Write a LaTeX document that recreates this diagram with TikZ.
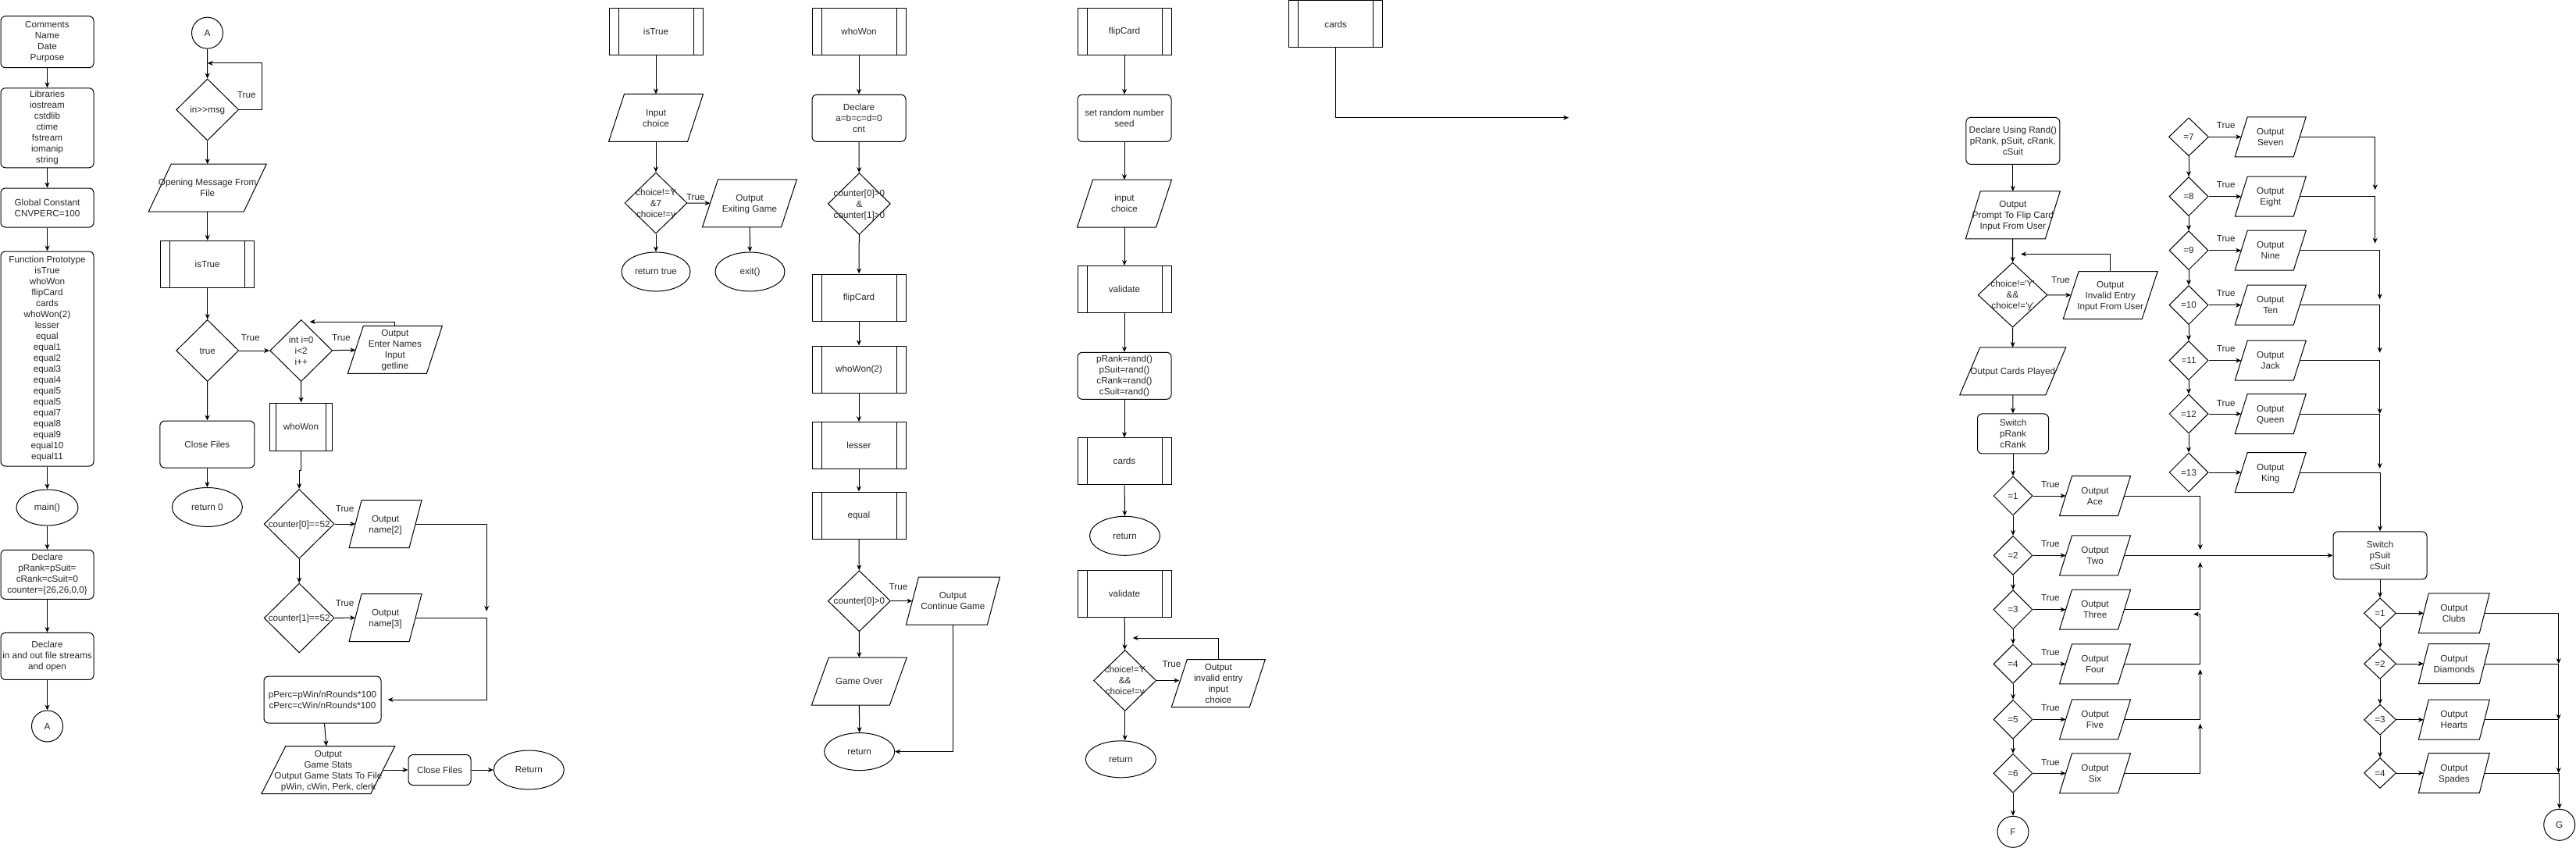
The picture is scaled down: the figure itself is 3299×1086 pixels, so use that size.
\documentclass[tikz,border=0pt]{standalone}
\usepackage{fontspec}
\setmainfont{Liberation Sans}
\usetikzlibrary{shapes.geometric,arrows.meta}
\newcommand{\ctext}[1]{\makebox[0pt]{\smash{\raisebox{-0.36em}{\begin{tabular}{@{}c@{}}#1\end{tabular}}}}}

\begin{document}
\begin{tikzpicture}[x=1pt, y=-1pt, line width=1pt, text=black!85,
	font=\fontsize{11.7}{14}\selectfont, >={Stealth[length=7pt,width=6pt]},
	proc/.style = {draw, rounded corners=6pt, minimum width=120, minimum height=60, inner sep=1pt, align=center},
	subr/.style = {draw, minimum width=120, minimum height=60, inner sep=1pt, align=center,
		path picture={\draw ([xshift=#1]path picture bounding box.north west) -- ([xshift=#1]path picture bounding box.south west)
			([xshift=-#1]path picture bounding box.north east) -- ([xshift=-#1]path picture bounding box.south east);}},
	subr/.default=12,
	decide/.style = {draw, diamond, minimum width=80, minimum height=78, inner sep=0pt},
	inout/.style = {minimum width=100, minimum height=60, inner sep=0pt,
		append after command={\pgfextra{\let\iobox\tikzlastnode
			\draw ([xshift=-#1/2]\iobox.south west) -- ([xshift=#1/2]\iobox.north west)
				-- ([xshift=#1/2]\iobox.north east) -- ([xshift=-#1/2]\iobox.south east) -- cycle;}}},
	inout/.default=20,
	termin/.style = {draw, ellipse, minimum width=90, minimum height=50, inner sep=0pt},
	conn/.style = {draw, circle, minimum size=40, inner sep=0pt},
	tlabel/.style = {inner sep=0pt},
	case/.style = {decide, minimum width=50, minimum height=50},
	suit/.style = {decide, minimum width=41, minimum height=39},
	cardout/.style = {inout=16, minimum width=74, minimum height=50},
	suitout/.style = {inout=13, minimum width=77, minimum height=50}]
	\useasboundingbox (0,0) rectangle (3299,1086);

	% main
	\node[proc, minimum width=119, minimum height=66] (cmt) at (60.5,53.7) {Comments\\Name\\Date\\Purpose};
	\node[proc, minimum width=119, minimum height=102] (lib) at (60.5,163.8) {Libraries\\iostream\\cstdlib\\ctime\\fstream\\iomanip\\string};
	\node[proc, minimum width=119, minimum height=50] (glob) at (60.5,266) {Global Constant\\CNVPERC=100};
	\node[proc, minimum width=119, minimum height=275] (proto) at (60.5,459.5) {Function Prototype\\isTrue\\whoWon\\flipCard\\cards\\whoWon(2)\\lesser\\equal\\equal1\\equal2\\equal3\\equal4\\equal5\\equal5\\equal7\\equal8\\equal9\\equal10\\equal11};
	\node[termin, minimum width=79, minimum height=46] (mainf) at (60.5,650) {main()};
	\node[proc, minimum width=119, minimum height=63] (decl) at (60.5,735.8) {Declare\\pRank=pSuit=\\cRank=cSuit=0\\counter=\{26,26,0,0\}};
	\node[proc, minimum width=119] (files) at (60.5,840.4) {Declare\\in and out file streams\\and open};
	\node[conn] (A1) at (60.5,930) {A};
	\draw[->] (cmt) -- (lib);
	\draw[->] (lib) -- (glob);
	\draw[->] (glob) -- (proto);
	\draw[->] (proto) -- (mainf);
	\draw[->] (mainf) -- (decl);
	\draw[->] (decl) -- (files);
	\draw[->] (files) -- (A1);

	% main, part A
	\node[conn] (A2) at (265.5,42.2) {A};
	\node[decide, minimum height=79] (msg) at (265.7,140.5) {\ctext{in>{}>msg}};
	\node[inout=29, minimum width=121] (open) at (265.7,240.7) {\ctext{Opening Message From\\File}};
	\node[subr] (isTr) at (265.7,338.3) {isTrue};
	\node[decide, minimum height=79] (truedia) at (265.7,449) {\ctext{true}};
	\node[decide, minimum height=79] (loopdia) at (385.7,449) {\ctext{int i=0\\i<2\\i++}};
	\node[inout] (names) at (505.9,447.8) {\ctext{Output\\Enter Names\\Input\\getline}};
	\node[proc, minimum width=121] (close1) at (265.4,569) {Close Files};
	\node[termin] (ret0) at (265.4,649.5) {return 0};
	\node[subr=8, minimum width=80, minimum height=61] (ww) at (385.6,546.5) {whoWon};
	\node[decide, minimum width=90, minimum height=89] (c0) at (383.2,671) {\ctext{counter[0]==52}};
	\node[inout=16, minimum width=76] (n2) at (493.6,671) {\ctext{Output\\name[2]}};
	\node[decide, minimum width=90, minimum height=89] (c1) at (383.2,791.5) {\ctext{counter[1]==52}};
	\node[inout=16, minimum width=76] (n3) at (493.6,791) {\ctext{Output\\name[3]}};
	\node[proc, minimum width=150] (perc) at (413,896) {pPerc=pWin/nRounds*100\\cPerc=cWin/nRounds*100};
	\node[inout=31, minimum width=139] (stats) at (420.4,986) {\ctext{Output\\Game Stats\\Output Game Stats To File\\pWin, cWin, Perk, clerk}};
	\node[proc, minimum width=80, minimum height=39] (close2) at (563,986) {Close Files};
	\node[termin] (Ret) at (677.3,986) {Return};
	\node[tlabel] (tmsg) at (315.8,121.6) {True};
	\node[tlabel] (ttrue) at (320.8,433) {True};
	\node[tlabel] (tloop) at (437,433) {True};
	\node[tlabel] (tc0) at (441.6,651.5) {True};
	\node[tlabel] (tc1) at (441.6,772.3) {True};
	\coordinate (msgin) at (265.7,80.9);
	\coordinate (loopin) at (396.7,412);
	\coordinate (n2end) at (623.2,782.8);
	\coordinate (n3turn) at (623.2,896);
	\draw[->] (A2) -- (msg);
	\draw[->] (msg.east) -- ++(29.3,0) |- (msgin);
	\draw[->] (msg) -- (open);
	\draw[->] (open) -- (isTr);
	\draw[->] (isTr) -- (truedia);
	\draw[->] (truedia) -- (close1);
	\draw[->] (close1) -- (ret0);
	\draw[->] (truedia) -- (loopdia);
	\draw[->] (loopdia) -- (names);
	\draw[->] (names.north) |- (loopin);
	\draw[->] (loopdia) -- (ww);
	\draw[->] (ww.south) -- ++(0,24.8) -| (c0.north);
	\draw[->] (c0) -- (n2);
	\draw[->] (c0) -- (c1);
	\draw[->] (c1) -- (n3);
	\draw[->] (n2.east) -| (n2end);
	\draw[->, shorten >=8pt] (n3.east) -| (n3turn) -- (perc.east);
	\draw[->] (perc) -- (stats);
	\draw[->] (stats) -- (close2);
	\draw[->] (close2) -- (Ret);

	% isTrue
	\node[subr] (isT) at (840,40.5) {isTrue};
	\node[inout] (inch) at (840,151) {\ctext{Input\\choice}};
	\node[decide] (chdia) at (840,260) {\ctext{choice!=Y\\\&7\\choice!=y}};
	\node[inout] (exitmsg) at (960,260.3) {\ctext{Output\\Exiting Game}};
	\node[termin, minimum width=88] (rettrue) at (840,348) {return true};
	\node[termin, minimum width=89] (exitf) at (960.5,348) {exit()};
	\node[tlabel] (tch) at (890.8,252.3) {True};
	\draw[->] (isT) -- (inch);
	\draw[->] (inch) -- (chdia);
	\draw[->] (chdia) -- (rettrue);
	\draw[->] (chdia) -- (exitmsg);
	\draw[->] (exitmsg) -- (exitf);

	% whoWon
	\node[subr] (wwT) at (1100,40.5) {whoWon};
	\node[proc] (wdecl) at (1100,151.3) {Declare\\a=b=c=d=0\\cnt};
	\node[decide, minimum height=79] (wdia) at (1100.4,261) {\ctext{counter[0]>0\\\&\\counter[1]>0}};
	\node[subr] (fc) at (1100,381) {flipCard};
	\node[subr] (ww2) at (1100,473) {whoWon(2)};
	\node[subr] (less) at (1100,570.6) {lesser};
	\node[subr] (eq) at (1100,660) {equal};
	\node[decide] (c0b) at (1100.4,769.7) {\ctext{counter[0]>0}};
	\node[inout=16, minimum width=103] (cont) at (1220.4,769.7) {\ctext{Output\\Continue Game}};
	\node[inout=22, minimum width=99] (gover) at (1100.3,872.6) {\ctext{Game Over}};
	\node[termin, minimum height=48] (wret) at (1100.7,962.6) {return};
	\node[tlabel] (tc0b) at (1150.5,751.4) {True};
	\draw[->] (wwT) -- (wdecl);
	\draw[->] (wdecl) -- (wdia);
	\draw[->] (wdia) -- (fc);
	\draw[->] (fc) -- (ww2);
	\draw[->] (ww2) -- (less);
	\draw[->] (less) -- (eq);
	\draw[->] (eq) -- (c0b);
	\draw[->] (c0b) -- (cont);
	\draw[->] (c0b) -- (gover);
	\draw[->] (gover) -- (wret);
	\draw[->] (cont.south) |- (wret.east);

	% flipCard and validate
	\node[subr] (fcT) at (1440,40.5) {flipCard};
	\node[proc] (seed) at (1440,151.3) {set random number\\seed};
	\node[inout] (inch2) at (1440,260.7) {\ctext{input\\choice}};
	\node[subr] (val1) at (1440,370.5) {validate};
	\node[proc] (rnd) at (1440,481.3) {pRank=rand()\\pSuit=rand()\\cRank=rand()\\cSuit=rand()};
	\node[subr] (cardsS) at (1440,590.8) {cards};
	\node[termin] (fret) at (1440.5,686.3) {return};
	\node[subr] (val2) at (1440,760.7) {validate};
	\node[decide] (vdia) at (1440.7,871.5) {\ctext{choice!=Y\\\&\&\\choice!=y}};
	\node[inout, minimum width=99] (invalid) at (1560.3,875) {\ctext{Output\\invalid entry\\input\\choice}};
	\node[termin, minimum height=47] (vret) at (1435.3,972.3) {return};
	\node[tlabel] (tv) at (1500.5,850.4) {True};
	\coordinate (vin) at (1450.7,817);
	\draw[->] (fcT) -- (seed);
	\draw[->] (seed) -- (inch2);
	\draw[->] (inch2) -- (val1);
	\draw[->] (val1) -- (rnd);
	\draw[->] (rnd) -- (cardsS);
	\draw[->] (cardsS) -- (fret);
	\draw[->] (val2) -- (vdia);
	\draw[->] (vdia.east) -- (vdia.east -| invalid.west);
	\draw[->] (invalid.north) |- (vin);
	\draw[->] (vdia.south) -- (vdia.south |- vret.north);

	% cards
	\node[subr] (cardsT) at (1710.7,31) {cards};
	\coordinate (cardsend) at (2009,150.7);
	\draw[->] (cardsT.south) |- (cardsend);

	% cards, ranks
	\node[proc] (drand) at (2577.8,180.4) {Declare Using Rand()\\pRank, pSuit, cRank,\\cSuit};
	\node[inout=19, minimum width=101] (prompt) at (2577.8,275.4) {\ctext{Output\\Prompt To Flip Card\\Input From User}};
	\node[decide, minimum width=89, minimum height=83] (cdia) at (2577.5,377.7) {\ctext{choice!=\textquotesingle Y\textquotesingle\\\&\&\\choice!=\textquotesingle y\textquotesingle}};
	\node[inout] (inv) at (2702.7,378) {\ctext{Output\\Invalid Entry\\Input From User}};
	\node[inout=26, minimum width=109] (played) at (2577.7,475.4) {\ctext{Output Cards Played}};
	\node[proc, minimum width=91, minimum height=51] (swr) at (2578,555.4) {Switch\\pRank\\cRank};
	\node[tlabel] (tcd) at (2639,358.6) {True};
	\coordinate (cin) at (2588,325.4);
	\draw[->] (drand) -- (prompt);
	\draw[->] (prompt) -- (cdia);
	\draw[->] (cdia) -- (inv);
	\draw[->] (inv.north) |- (cin);
	\draw[->] (cdia) -- (played);
	\draw[->] (played) -- (swr);

	\node[case] (r1) at (2578,635) {\ctext{=1}};
	\node[case] (r2) at (2578,711.3) {\ctext{=2}};
	\node[case] (r3) at (2578,780.7) {\ctext{=3}};
	\node[case] (r4) at (2578,850.3) {\ctext{=4}};
	\node[case] (r5) at (2578,921.3) {\ctext{=5}};
	\node[case] (r6) at (2578,990.3) {\ctext{=6}};
	\node[conn] (F) at (2578,1065.3) {F};
	\node[cardout] (o1) at (2683,635) {\ctext{Output\\Ace}};
	\node[cardout] (o2) at (2683,711.3) {\ctext{Output\\Two}};
	\node[cardout] (o3) at (2683,780.7) {\ctext{Output\\Three}};
	\node[cardout] (o4) at (2683,850.3) {\ctext{Output\\Four}};
	\node[cardout] (o5) at (2683,921.3) {\ctext{Output\\Five}};
	\node[cardout] (o6) at (2683,990.3) {\ctext{Output\\Six}};
	\node[tlabel] (t1) at (2625.8,620.7) {True};
	\node[tlabel] (t2) at (2625.8,696.7) {True};
	\node[tlabel] (t3) at (2625.8,765.7) {True};
	\node[tlabel] (t4) at (2625.8,835.7) {True};
	\node[tlabel] (t5) at (2625.8,906.7) {True};
	\node[tlabel] (t6) at (2625.8,976.7) {True};
	\draw[->] (swr) -- (r1);
	\draw[->] (r1) -- (r2);
	\draw[->] (r2) -- (r3);
	\draw[->] (r3) -- (r4);
	\draw[->] (r4) -- (r5);
	\draw[->] (r5) -- (r6);
	\draw[->] (r6) -- (F);
	\draw[->] (r1) -- (o1);
	\draw[->] (r2) -- (o2);
	\draw[->] (r3) -- (o3);
	\draw[->] (r4) -- (o4);
	\draw[->] (r5) -- (o5);
	\draw[->] (r6) -- (o6);

	\node[case, minimum width=51, minimum height=49] (r7) at (2803,175.3) {\ctext{=7}};
	\node[case] (r8) at (2803,251.7) {\ctext{=8}};
	\node[case] (r9) at (2803,320.7) {\ctext{=9}};
	\node[case] (r10) at (2803,390.7) {\ctext{=10}};
	\node[case] (r11) at (2803,461.7) {\ctext{=11}};
	\node[case] (r12) at (2803,530) {\ctext{=12}};
	\node[case] (r13) at (2803,605) {\ctext{=13}};
	\node[cardout] (o7) at (2907.7,175.3) {\ctext{Output\\Seven}};
	\node[cardout] (o8) at (2907.7,251.7) {\ctext{Output\\Eight}};
	\node[cardout] (o9) at (2907.7,320.7) {\ctext{Output\\Nine}};
	\node[cardout] (o10) at (2907.7,390.7) {\ctext{Output\\Ten}};
	\node[cardout] (o11) at (2907.7,461.7) {\ctext{Output\\Jack}};
	\node[cardout] (o12) at (2907.7,530) {\ctext{Output\\Queen}};
	\node[cardout] (o13) at (2907.7,605) {\ctext{Output\\King}};
	\node[tlabel] (t7) at (2850.7,160.7) {True};
	\node[tlabel] (t8) at (2850.7,236.7) {True};
	\node[tlabel] (t9) at (2850.7,305.7) {True};
	\node[tlabel] (t10) at (2850.7,375.7) {True};
	\node[tlabel] (t11) at (2850.7,446.7) {True};
	\node[tlabel] (t12) at (2850.7,516.7) {True};
	\draw[->] (r7) -- (r8);
	\draw[->] (r8) -- (r9);
	\draw[->] (r9) -- (r10);
	\draw[->] (r10) -- (r11);
	\draw[->] (r11) -- (r12);
	\draw[->] (r12) -- (r13);
	\draw[->] (r7) -- (o7);
	\draw[->] (r8) -- (o8);
	\draw[->] (r9) -- (o9);
	\draw[->] (r10) -- (o10);
	\draw[->] (r11) -- (o11);
	\draw[->] (r12) -- (o12);
	\draw[->] (r13) -- (o13);

	% cards, suits
	\node[proc, minimum height=61] (suitsw) at (3048,711.3) {Switch\\pSuit\\cSuit};
	\node[suit] (s1) at (3048,785.3) {\ctext{=1}};
	\node[suit] (s2) at (3048,850) {\ctext{=2}};
	\node[suit] (s3) at (3048,921.7) {\ctext{=3}};
	\node[suit] (s4) at (3048,990) {\ctext{=4}};
	\node[suitout] (clubs) at (3142.8,785.3) {\ctext{Output\\Clubs}};
	\node[suitout] (diams) at (3142.8,850) {\ctext{Output\\Diamonds}};
	\node[suitout] (hearts) at (3142.8,921.7) {\ctext{Output\\Hearts}};
	\node[suitout] (spades) at (3142.8,990) {\ctext{Output\\Spades}};
	\node[conn] (G) at (3277.7,1056.3) {G};
	\draw[->] (suitsw) -- (s1);
	\draw[->] (s1) -- (s2);
	\draw[->] (s2) -- (s3);
	\draw[->] (s3) -- (s4);
	\draw[->] (s1) -- (clubs);
	\draw[->] (s2) -- (diams);
	\draw[->] (s3) -- (hearts);
	\draw[->] (s4) -- (spades);

	% merging lines
	\coordinate (ma1) at (2817.7,704);
	\coordinate (ma3) at (2817.7,720);
	\coordinate (ma4) at (2809,786.5);
	\coordinate (ma5) at (2817.7,857.3);
	\coordinate (ma6) at (2817.7,926.7);
	\draw[->] (o1.east) -| (ma1);
	\draw[->] (o2.east) -- (suitsw.west);
	\draw[->] (o3.east) -| (ma3);
	\draw[->] (o4.east) -| ([xshift=8.7]ma4) -- (ma4);
	\draw[->] (o5.east) -| (ma5);
	\draw[->] (o6.east) -| (ma6);
	\coordinate (mb7) at (3041.7,243.3);
	\coordinate (mb8) at (3041.7,311.7);
	\coordinate (mb9) at (3047.7,383.3);
	\coordinate (mb10) at (3047.7,451.7);
	\coordinate (mb11) at (3047.7,530);
	\coordinate (mb12) at (3047.7,600);
	\draw[->] (o7.east) -| (mb7);
	\draw[->] (o8.east) -| (mb8);
	\draw[->] (o9.east) -| (mb9);
	\draw[->] (o10.east) -| (mb10);
	\draw[->] (o11.east) -| (mb11);
	\draw[->] (o12.east) -| (mb12);
	\draw[->] (o13.east) -| (suitsw.north);
	\coordinate (ms1) at (3276.7,850);
	\coordinate (ms2) at (3276.7,921.7);
	\coordinate (ms3) at (3276.7,990);
	\draw[->] (clubs.east) -| (ms1);
	\draw[->] (diams.east) -| (ms2);
	\draw[->] (hearts.east) -| (ms3);
	\draw[->] (spades.east) -| (G.north);
\end{tikzpicture}
\end{document}
